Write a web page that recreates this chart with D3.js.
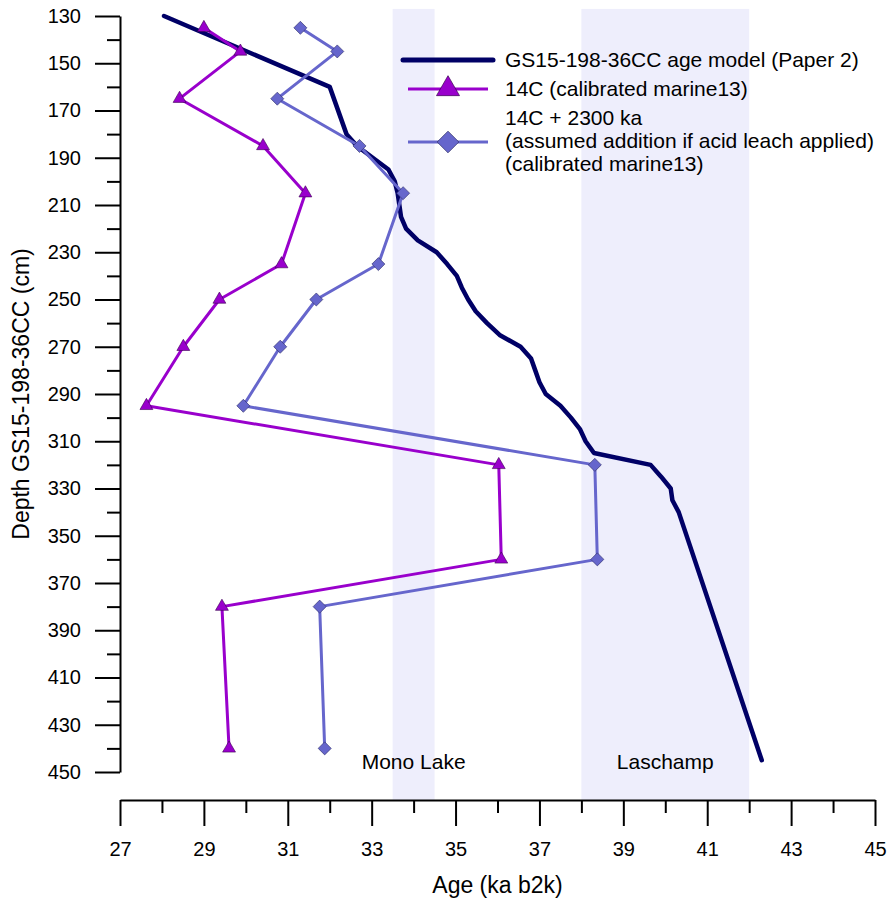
<!DOCTYPE html>
<html>
<head>
<meta charset="utf-8">
<script src="https://cdn.jsdelivr.net/npm/d3@7"></script>
<style>
    body { margin:0; background:#fff; }
    #chart { width:890px; height:900px; }
    text { font-family: "Liberation Sans", Arial, sans-serif; fill:#000; }
    .axis path, .axis line { stroke:#000; stroke-width:2px; }
</style>
</head>
<body>
<div id="chart"></div>
<script>
// age model GS15-198-36CC (Paper 2)
var modelDepth = [130,160,180,185,195,200,205,210,215,220,225,230,235,240,245,250,255,260,265,270,275,280,285,290,295,300,305,310,315,320,325,330,335,340,445];
var modelAge   = [28.05,32.0,32.4,32.65,33.4,33.55,33.62,33.66,33.7,33.82,34.1,34.55,34.8,35.03,35.15,35.3,35.48,35.75,36.05,36.55,36.8,36.9,37.0,37.15,37.5,37.75,37.97,38.1,38.3,39.65,39.9,40.13,40.17,40.32,42.3];

// 14C dates
var c14Depth = [135,145,165,185,205,235,250,270,295,320,360,380,440];
var c14Age   = [29.0,29.87,28.42,30.41,31.42,30.85,29.37,28.51,27.63,36.03,36.09,29.43,29.6];
var c14PlusAge = [31.3,32.18,30.75,32.71,33.75,33.16,31.68,30.82,29.94,38.32,38.38,31.76,31.88];

var legendLabels = [
    ["GS15-198-36CC age model (Paper 2)"],
    ["14C (calibrated marine13)"],
    ["14C + 2300 ka", "(assumed addition if acid leach applied)", "(calibrated marine13)"]
];

var bandNames = ["Mono Lake","Laschamp"];
var bandStart = [33.5,38];
var bandEnd   = [34.5,42];

var xTicks = [27,29,31,33,35,37,39,41,43,45];
var xMinor = [28,30,32,34,36,38,40,42,44];
var yTicks = [130,150,170,190,210,230,250,270,290,310,330,350,370,390,410,430,450];
var yMinor = [140,160,180,200,220,240,260,280,300,320,340,360,380,400,420,440];

var navy = "#000066", purple = "#9900cc", blue = "#6666cc";

var margin = {t:16,r:15,b:128,l:120};
var W = 890, H = 900;
var width = W - margin.l - margin.r,
    height = H - margin.t - margin.b;

var svg = d3.select('#chart')
    .append('svg')
    .attr('width', W)
    .attr('height', H);

var plot = svg.append('g')
    .attr('transform','translate('+margin.l+','+margin.t+')');

var scaleX = d3.scaleLinear().domain([27,45]).range([0,width]);
var scaleY = d3.scaleLinear().domain([130,450]).range([0,height]);
var xAxisY = height + 28;

// shaded bands
plot.selectAll('.band')
    .data(bandNames)
    .enter()
    .append('rect')
    .attr('class','band')
    .attr('x', function(d,i){ return scaleX(bandStart[i]); })
    .attr('width', function(d,i){ return scaleX(bandEnd[i]) - scaleX(bandStart[i]); })
    .attr('y', scaleY(127))
    .attr('height', xAxisY - scaleY(127))
    .attr('fill', '#eeeefc');

plot.selectAll('.bandLabel')
    .data(bandNames)
    .enter()
    .append('text')
    .attr('class','bandLabel')
    .attr('x', function(d,i){ return scaleX((bandStart[i]+bandEnd[i])/2); })
    .attr('y', scaleY(450) - 3)
    .attr('text-anchor','middle')
    .style('font-size','21px')
    .text(function(d){ return d; });

// axes
plot.append('g')
    .attr('class','axis')
    .call(d3.axisLeft(scaleY).tickValues(yTicks).tickSize(25).tickSizeOuter(0).tickPadding(14))
    .selectAll('text').style('font-size','20px');

plot.append('g')
    .attr('class','axis')
    .call(d3.axisLeft(scaleY).tickValues(yMinor).tickSize(13).tickSizeOuter(0).tickFormat(''))
    .select('.domain').remove();

plot.append('g')
    .attr('class','axis')
    .attr('transform','translate(0,'+xAxisY+')')
    .call(d3.axisBottom(scaleX).tickValues(xTicks).tickSize(26).tickSizeOuter(0).tickPadding(16))
    .selectAll('text').style('font-size','20px');

plot.append('g')
    .attr('class','axis')
    .attr('transform','translate(0,'+xAxisY+')')
    .call(d3.axisBottom(scaleX).tickValues(xMinor).tickSize(13).tickSizeOuter(0).tickFormat(''))
    .select('.domain').remove();

svg.selectAll('.axis text').attr('fill','#000');

svg.append('text')
    .attr('transform','translate(29,'+(margin.t+height/2)+') rotate(-90)')
    .attr('text-anchor','middle')
    .style('font-size','23px')
    .text('Depth GS15-198-36CC (cm)');

svg.append('text')
    .attr('x', margin.l + width/2)
    .attr('y', 893)
    .attr('text-anchor','middle')
    .style('font-size','23px')
    .text('Age (ka b2k)');

// lines
var line = d3.line()
    .x(function(d){ return scaleX(d[0]); })
    .y(function(d){ return scaleY(d[1]); });

var modelPts = modelAge.map(function(a,i){ return [a, modelDepth[i]]; });
var c14Pts = c14Age.map(function(a,i){ return [a, c14Depth[i]]; });
var c14PlusPts = c14PlusAge.map(function(a,i){ return [a, c14Depth[i]]; });

plot.append('path')
    .datum(modelPts)
    .attr('d', line)
    .attr('fill','none')
    .attr('stroke', navy)
    .attr('stroke-width', 4.5)
    .attr('stroke-linejoin','round')
    .attr('stroke-linecap','round');

plot.append('path')
    .datum(c14Pts)
    .attr('d', line)
    .attr('fill','none')
    .attr('stroke', purple)
    .attr('stroke-width', 3)
    .attr('stroke-linejoin','round');

plot.append('path')
    .datum(c14PlusPts)
    .attr('d', line)
    .attr('fill','none')
    .attr('stroke', blue)
    .attr('stroke-width', 3)
    .attr('stroke-linejoin','round');

var tri = d3.symbol().type(d3.symbolTriangle);
var sq = d3.symbol().type(d3.symbolSquare);

plot.selectAll('.tri')
    .data(c14Pts)
    .enter()
    .append('path')
    .attr('class','tri')
    .attr('d', tri.size(72)())
    .attr('transform', function(d){ return 'translate('+scaleX(d[0])+','+scaleY(d[1])+')'; })
    .attr('fill', purple)
    .attr('stroke', '#3a0050')
    .attr('stroke-width', 0.6);

plot.selectAll('.dia')
    .data(c14PlusPts)
    .enter()
    .append('path')
    .attr('class','dia')
    .attr('d', sq.size(85)())
    .attr('transform', function(d){ return 'translate('+scaleX(d[0])+','+scaleY(d[1])+') rotate(45)'; })
    .attr('fill', blue)
    .attr('stroke', '#30306a')
    .attr('stroke-width', 0.6);

// legend
var legend = svg.append('g').attr('transform','translate(403,0)');
var legendY = [60, 89, 142];

legend.append('line')
    .attr('x1',0).attr('x2',90).attr('y1',legendY[0]).attr('y2',legendY[0])
    .attr('stroke',navy).attr('stroke-width',5).attr('stroke-linecap','round');
legend.append('line')
    .attr('x1',5).attr('x2',85).attr('y1',legendY[1]).attr('y2',legendY[1])
    .attr('stroke',purple).attr('stroke-width',3);
legend.append('path')
    .attr('d', tri.size(230)())
    .attr('transform','translate(45,'+legendY[1]+')')
    .attr('fill',purple).attr('stroke','#3a0050').attr('stroke-width',0.7);
legend.append('line')
    .attr('x1',5).attr('x2',85).attr('y1',legendY[2]).attr('y2',legendY[2])
    .attr('stroke',blue).attr('stroke-width',3);
legend.append('path')
    .attr('d', sq.size(235)())
    .attr('transform','translate(45,'+legendY[2]+') rotate(45)')
    .attr('fill',blue).attr('stroke','#30306a').attr('stroke-width',0.7);

var legendBase = [[67],[96],[125,148,171]];
legendLabels.forEach(function(lines,i){
    lines.forEach(function(t,j){
        legend.append('text')
            .attr('x',102)
            .attr('y',legendBase[i][j])
            .style('font-size','21px')
            .text(t);
    });
});
</script>
</body>
</html>
